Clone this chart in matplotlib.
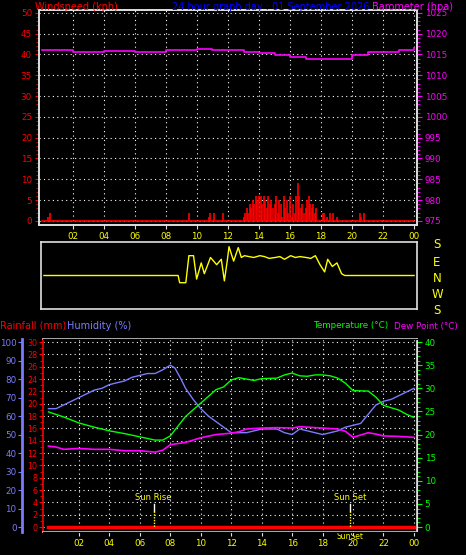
import matplotlib
matplotlib.use("Agg")
import matplotlib.pyplot as plt
import numpy as np

# ---- data ----
hours_tick = list(range(2, 25, 2))
hour_labels = ["02","04","06","08","10","12","14","16","18","20","22","00"]

press_h = [0,1,2,3,4,5,6,7,8,9,10,11,12,13,14,15,16,17,18,19,20,21,22,23,24]
press_v = [1016.2,1016.0,1015.6,1015.6,1015.9,1015.8,1015.6,1015.7,1016.1,1016.1,1016.3,1016.2,
           1016.0,1015.6,1015.3,1014.9,1014.4,1014.0,1013.8,1014.0,1014.8,1015.5,1015.6,1016.1,1016.6]

wind_h = [0.4,0.5,9.5,10.8,10.85,11.1,11.7,13.0,13.1,13.2,13.3,13.4,13.5,13.6,13.7,13.8,13.9,14.0,
          14.1,14.2,14.3,14.4,14.5,14.6,14.7,14.8,14.9,15.0,15.1,15.2,15.3,15.4,15.5,15.6,15.7,15.8,
          15.9,16.0,16.1,16.2,16.3,16.4,16.5,16.6,16.7,16.8,16.9,17.0,17.1,17.2,17.3,17.4,17.5,17.6,
          17.7,18.1,18.2,18.4,18.6,18.8,19.0,20.5,20.6,20.8]
wind_v = [1,2,2,1,2,2,2,1,2,3,2,4,3,5,4,6,5,6,6,4,6,5,3,6,4,5,3,4,6,2,5,4,1,6,3,5,
          2,6,1,4,2,6,9,6,3,4,2,3,5,6,4,3,4,2,3,2,2,1,2,2,1,2,1,2]

dir_h = [0,8.7,8.8,9.2,9.4,9.7,9.9,10.2,10.4,10.8,11.2,11.5,11.7,11.9,12.0,12.3,12.6,12.8,13.0,13.3,
         13.6,14.0,14.3,14.6,15.0,15.3,15.6,16.0,16.3,16.6,17.0,17.3,17.6,17.9,18.2,18.4,18.7,19.0,19.3,19.5,24]
dir_v = [0,0,-40,-40,110,110,-20,70,10,100,60,90,-30,90,160,80,155,100,110,105,100,110,105,95,
         100,105,90,110,100,105,100,95,110,60,20,90,50,70,10,0,0]

hum_h = [0,0.5,1,1.5,2,2.5,3,3.5,4,4.5,5,5.5,6,6.5,7,7.5,8,8.3,8.7,9,9.5,10,10.5,11,11.5,12,12.5,13,
         14,15,15.5,16,16.5,17,17.5,18,18.5,19,19.5,20,20.5,21,21.5,22,22.5,23,23.5,24]
hum_v = [64,64,66,68,70,72,74,75,77,78,79,81,82,83,83,85,87.5,86,80,75,69,64,60,57,54,51,51,51,
         53,53,51,50,53,52,51,50,51,52,54,55,56,61,66,68,69,71,73,75]

temp_h = [0,1,2,3,4,5,6,7,7.5,8,9,10,11,11.5,12,12.5,13,13.5,14,15,15.5,16,16.5,17,17.5,18,18.5,19,
          19.5,20,21,21.5,22,23,23.5,24]
temp_v = [24.9,23.8,22.5,21.6,20.8,20.2,19.5,18.8,18.8,19.7,23.9,26.8,29.7,30.3,31.8,32.3,32.0,31.7,
          32.1,32.2,32.9,33.3,32.7,32.6,32.9,32.9,32.7,32.2,31.1,29.5,29.4,28.1,26.3,25.3,24.4,23.7]

dew_h = [0,0.5,1,2,3,4,5,6,7,7.5,8,9,10,11,12,12.5,13,14,15,16,16.5,17,18,19,19.5,20,20.5,21,21.5,22,23,24]
dew_v = [17.5,17.3,16.8,17.0,16.8,16.8,16.5,16.5,16.2,16.6,17.8,18.3,19.3,20.0,20.3,20.6,21.2,21.4,21.5,
         21.4,21.7,21.6,21.4,21.2,20.7,19.4,19.9,20.4,20.1,19.7,19.6,19.4]

rain_h = [0, 24]
rain_v = [0, 0]

sunrise, sunset = 6.9, 19.8

W, H = 466, 555
fig = plt.figure(figsize=(W/100, H/100), dpi=100, facecolor="black")
def rect(l, t, r, b):
    return [l/W, 1-b/H, (r-l)/W, (b-t)/H]

HUM = "#7b7bff"; GRN = "#00ff00"; MAG = "#ff00ff"; RED = "#ff0000"; YEL = "#ffff00"; SP = "#e0e0e0"
fs = 6.3
tfs = 7

def style(ax):
    ax.set_facecolor("black")
    for s in ax.spines.values():
        s.set_color(SP); s.set_linewidth(1.2)
    ax.tick_params(colors=SP, labelsize=fs, length=3, width=0.8, pad=2)

# ---- top panel ----
ax = fig.add_axes(rect(39, 10, 417, 225))
style(ax)
ax.set_xlim(-0.19, 24.19); ax.set_ylim(-1, 50.7)
ax.vlines(wind_h, 0, wind_v, color=RED, lw=1.2)
ax.plot([0, 24], [0, 0], color=RED, lw=1.2)
ax.set_xticks(hours_tick); ax.set_xticklabels(hour_labels, color=YEL)
ax.set_yticks(range(0, 51, 5)); ax.set_yticklabels([str(v) for v in range(0, 51, 5)], color=RED)
ax.set_yticks(np.arange(0, 51, 1), minor=True)
ax.tick_params(axis="y", which="both", colors=RED)
ax.tick_params(axis="y", which="minor", length=2)
ax.grid(True, color="white", linestyle=(0, (1, 3)), lw=0.8)
ax2 = ax.twinx()
ax2.set_ylim(975 - 1, 1025.7)
ax2.plot(press_h, press_v, color=MAG, lw=1.2, drawstyle="steps-post")
ax2.set_yticks(range(975, 1026, 5))
ax2.set_yticks(np.arange(975, 1026, 1), minor=True)
ax2.tick_params(axis="y", which="both", colors=MAG, labelsize=fs, pad=2)
ax2.tick_params(axis="y", which="minor", length=2)
for s in ax2.spines.values():
    s.set_color(SP); s.set_linewidth(1.2)

fig.text(35/W, 1-7/H, "Windspeed (kph)", color=RED, fontsize=tfs, va="center")
fig.text(172/W, 1-7/H, "24 hour graph day : 01 September 2026", color="#0000ff", fontsize=tfs, va="center")
fig.text(372/W, 1-7/H, "Barometer (hpa)", color=MAG, fontsize=tfs, va="center")

# ---- middle panel (wind direction) ----
axm = fig.add_axes(rect(41, 242, 417, 309))
style(axm)
axm.set_xlim(-0.19, 24.19); axm.set_ylim(-186, 186)
axm.plot(dir_h, dir_v, color=YEL, lw=1.0)
axm.set_xticks([]); axm.set_yticks([])
for lab, y in zip(["S", "E", "N", "W", "S"], [244, 263, 279, 294, 310]):
    fig.text(437/W, 1-y/H, lab, color=YEL, fontsize=8.5, ha="center", va="center")

# ---- bottom panel ----
axb = fig.add_axes(rect(43, 339, 417, 532))
style(axb)
ylo, yhi = -0.81, 30.5
axb.set_xlim(-0.36, 24.2); axb.set_ylim(ylo, yhi)
axb.set_xticks(hours_tick); axb.set_xticklabels(hour_labels, color=YEL)
axb.set_yticks(range(0, 31, 2))
axb.set_yticks(np.arange(0, 31, 1), minor=True)
axb.tick_params(axis="y", which="both", colors=RED, labelsize=5.8, pad=1)
axb.tick_params(axis="y", which="minor", length=2)
axb.spines["left"].set_color(RED)
axb.grid(True, color="white", linestyle=(0, (1, 3)), lw=0.8)
axb.plot(rain_h, rain_v, color=RED, lw=2.5, zorder=5)

axh = axb.twinx()
axh.set_ylim(ylo*100/30, yhi*100/30)
axh.yaxis.set_ticks_position("left"); axh.yaxis.set_label_position("left")
axh.spines["left"].set_position(("outward", 15))
axh.spines["left"].set_color(HUM); axh.spines["left"].set_linewidth(2)
axh.spines["right"].set_visible(False)
axh.set_yticks(range(0, 101, 10))
axh.tick_params(axis="y", colors=HUM, labelsize=fs, length=3, pad=1)
axh.plot(hum_h, hum_v, color=HUM, lw=1.0)

axt = axb.twinx()
axt.set_ylim(ylo*40/30, yhi*40/30)
axt.set_yticks(range(0, 41, 5))
axt.set_yticks(np.arange(0, 41, 1), minor=True)
axt.tick_params(axis="y", which="both", colors=GRN, labelsize=fs, pad=2)
axt.tick_params(axis="y", which="minor", length=2)
axt.spines["right"].set_color(SP); axt.spines["left"].set_visible(False)
axt.plot(temp_h, temp_v, color=GRN, lw=1.0)
axt.plot(dew_h, dew_v, color=MAG, lw=1.2)

for h, lab in [(sunrise, "Sun Rise"), (sunset, "Sun Set")]:
    axt.plot([h, h], [5.0, 3.4], color="white", lw=1)
    axt.plot([h, h], [3.4, 0], color=YEL, lw=1, linestyle=(0, (1, 1)))
    axt.text(h, 5.4, lab, color=YEL, fontsize=6, ha="center", va="bottom")
axb.text(sunset, -1.55, "SunSet", color=YEL, fontsize=5.5, ha="center", va="center")

fig.text(0/W, 1-326/H, "Rainfall (mm)", color=RED, fontsize=tfs, va="center")
fig.text(67/W, 1-326/H, "Humidity (%)", color=HUM, fontsize=tfs, va="center")
fig.text(313/W, 1-326/H, "Temperature (°C)", color=GRN, fontsize=6.3, va="center")
fig.text(394/W, 1-326/H, "Dew Point (°C)", color=MAG, fontsize=6.3, va="center")

fig.savefig("out.png", dpi=100, facecolor="black")
